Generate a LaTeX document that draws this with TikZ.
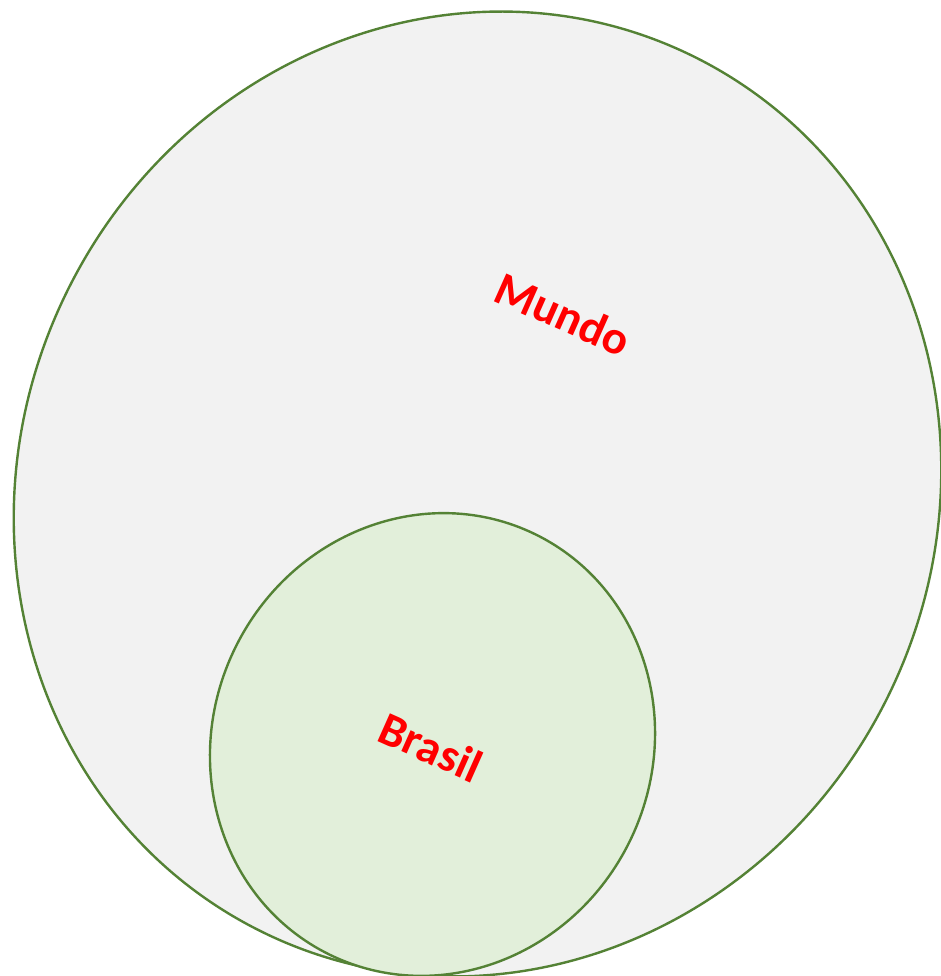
\documentclass[tikz,border=0pt]{standalone}
\usepackage{fontspec}
\setmainfont{Carlito}
\definecolor{edgegreen}{HTML}{548235}
\definecolor{worldfill}{HTML}{F2F2F2}
\definecolor{brfill}{HTML}{E2EFDA}
\definecolor{labelred}{HTML}{FF0000}
\tikzset{
  setline/.style={draw=edgegreen, line width=2.4pt},
  setlabel/.style={text=labelred, font=\fontsize{47}{52}\selectfont\bfseries, inner sep=0pt},
}
\begin{document}
\begin{tikzpicture}[x=1pt,y=1pt]
\useasboundingbox (0,0) rectangle (941,976);
\draw[setline, fill=worldfill, rotate around={-26:(477.5,482)}] (477.5,482) ellipse [x radius=457.7, y radius=488];
\draw[setline, fill=brfill, rotate around={-26:(432.5,231.5)}] (432.5,231.5) ellipse [x radius=219.7, y radius=234];
\node[setlabel, rotate=-24] (mundo) at (563,662) {Mundo};
\node[setlabel, rotate=-24] (brasil) at (431,229) {Brasil};
\end{tikzpicture}
\end{document}
